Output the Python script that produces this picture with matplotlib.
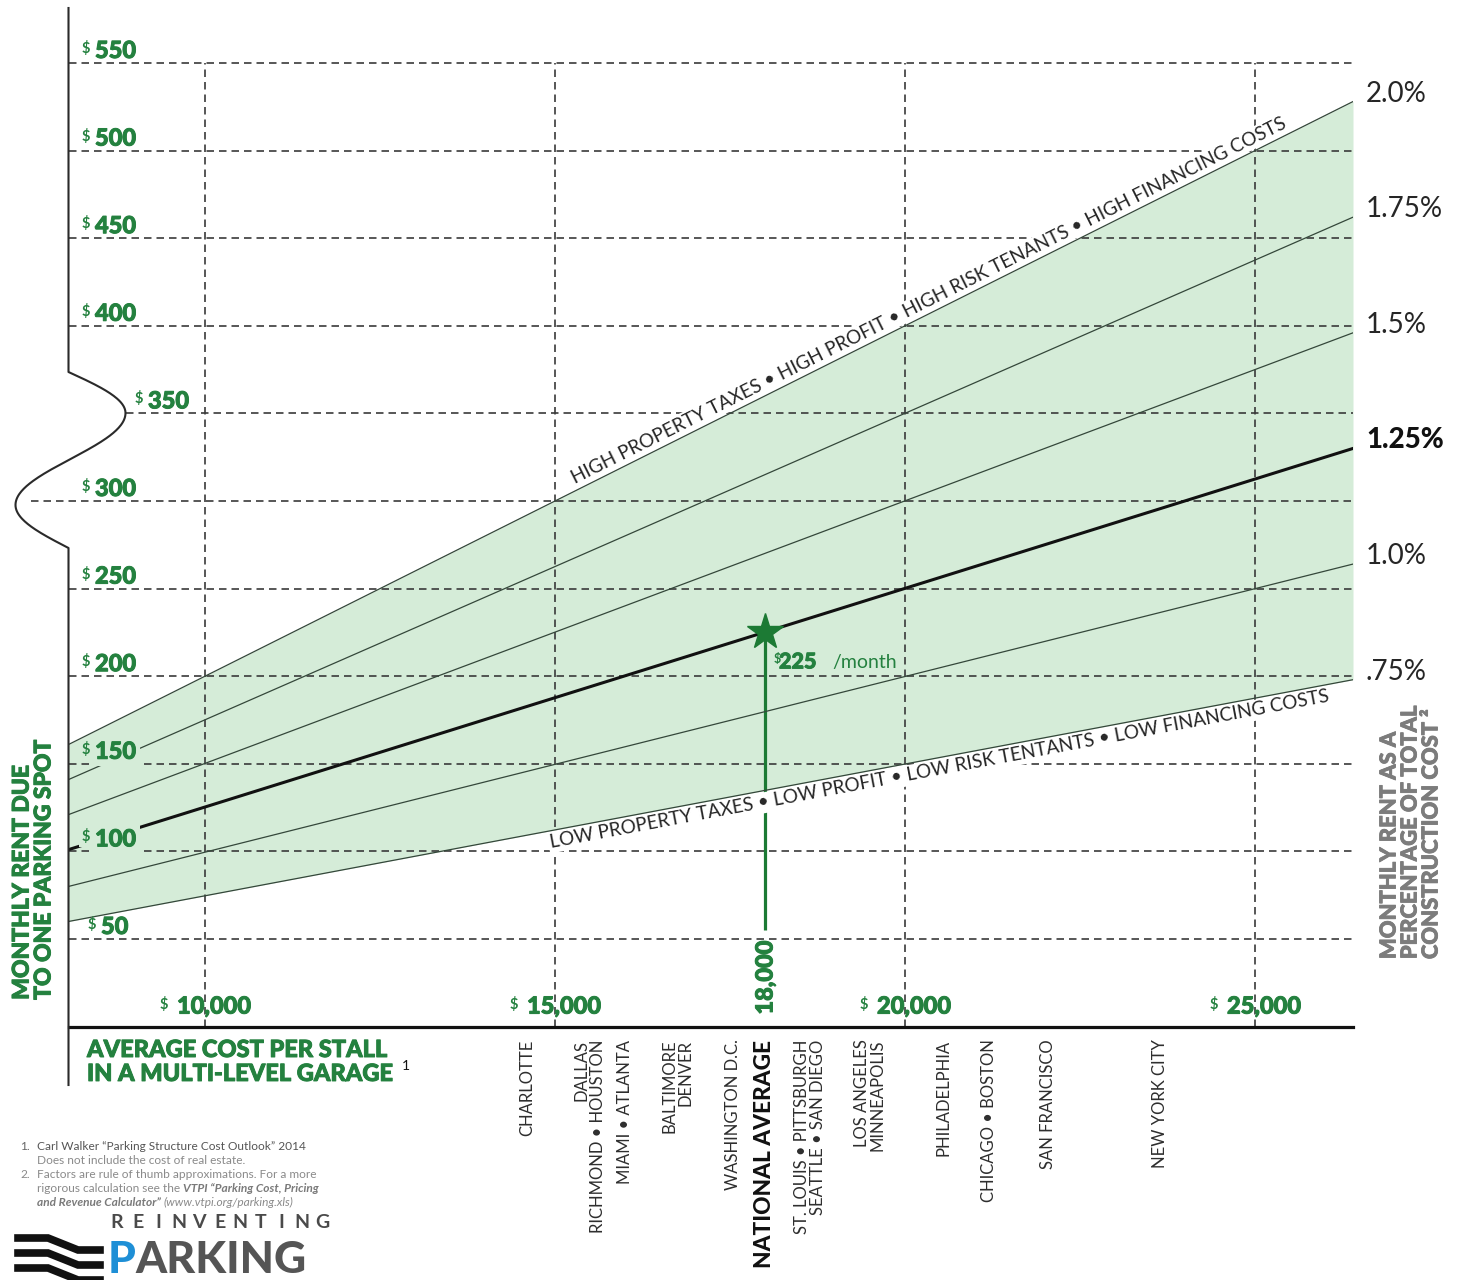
import numpy as np
import matplotlib
matplotlib.use('Agg')
import matplotlib.pyplot as plt
import matplotlib.patheffects as pe
from matplotlib.lines import Line2D

plt.rcParams['font.family'] = ['Lato', 'DejaVu Sans']

# ---- data ----
cost_ends = [8050, 26400]                     # x range of the rate lines
rate_labels = ['2.0%', '1.75%', '1.5%', '1.25%', '1.0%', '.75%']
rent_at_left = [161, 141, 121, 101, 80, 60]   # monthly rent at left edge
rent_at_right = [528, 462, 396, 330, 264, 198]  # monthly rent at right edge

rent_ticks = [50, 100, 150, 200, 250, 300, 350, 400, 450, 500, 550]
cost_ticks = [10000, 15000, 20000, 25000]
cost_tick_labels = ['10,000', '15,000', '20,000', '25,000']

national_cost = 18000
national_rent = 225
drop_line_bottom = 55

city_costs = [14600, 15500, 16000, 16750, 17550, 18000,
              18650, 19500, 20550, 21200, 22050, 23650]
city_labels = ['CHARLOTTE', 'DALLAS\nRICHMOND \u2022 HOUSTON', 'MIAMI \u2022 ATLANTA',
               'BALTIMORE\nDENVER', 'WASHINGTON D.C.', 'NATIONAL AVERAGE',
               'ST. LOUIS \u2022 PITTSBURGH\nSEATTLE \u2022 SAN DIEGO',
               'LOS ANGELES\nMINNEAPOLIS', 'PHILADELPHIA', 'CHICAGO \u2022 BOSTON',
               'SAN FRANCISCO', 'NEW YORK CITY']

high_text = ('HIGH PROPERTY TAXES \u2022 HIGH PROFIT \u2022 HIGH RISK TENANTS '
             '\u2022 HIGH FINANCING COSTS')
low_text = ('LOW PROPERTY TAXES \u2022 LOW PROFIT \u2022 LOW RISK TENTANTS '
            '\u2022 LOW FINANCING COSTS')

green = '#24813f'
dkgreen = '#1c7a34'
fill = '#d5ecd8'
dark = '#262626'

W, H = 1458, 1280
fig = plt.figure(figsize=(W / 100, H / 100), dpi=100)
ax = fig.add_axes([68.5 / W, 1 - 1026.6 / H, 1284.5 / W, 963.6 / H])
ax.set_xlim(cost_ends)
ax.set_ylim(0, 550)
ax.axis('off')

# heavier look for the green bold labels
heavy = [pe.withStroke(linewidth=0.7, foreground=green)]


def fp(x, y):
    # pixel position (top-left origin) -> figure fraction
    return (x / W, 1 - y / H)


# grid
grid_kw = dict(color='#3a3a3a', lw=1.2, ls=(0, (4.5, 3)), zorder=2, clip_on=False)
grid_start = {350: 57 / 1284.5, 300: -38 / 1284.5}
for v in rent_ticks:
    ax.axhline(v, xmin=grid_start.get(v, 0), xmax=1, **grid_kw)
for c in cost_ticks:
    ax.axvline(c, 0, 1, **grid_kw)

# band and rate lines
ax.fill_between(cost_ends, [rent_at_left[-1], rent_at_right[-1]],
                [rent_at_left[0], rent_at_right[0]], color=fill, lw=0, zorder=1)
for lab, r0, r1 in zip(rate_labels, rent_at_left, rent_at_right):
    bold = lab == '1.25%'
    ax.plot(cost_ends, [r0, r1], color='#111111' if bold else '#34473a',
            lw=2.2 if bold else 0.9, zorder=5)
    ax.annotate(lab, xy=(cost_ends[1], r1), xytext=(13, 8), textcoords='offset pixels',
                ha='left', va='center', fontsize=20, color='#111111' if bold else dark,
                weight='black' if bold else 'normal', annotation_clip=False)

# x axis and broken y axis
ax.axhline(0, color='#111111', lw=2.3, zorder=6, clip_on=False)
ys = np.linspace(372, 548, 200)
xo = np.where(ys < 413, 57 * np.sin(np.pi / 2 * (ys - 372) / 41),
              np.where(ys < 505, 2 + 55 * np.cos(np.pi * (ys - 413) / 92),
                       -53 * np.cos(np.pi / 2 * (ys - 505) / 43)))
axis_x = np.concatenate([[68.5, 68.5], 68.5 + xo, [68.5, 68.5]])
axis_y = np.concatenate([[8, 372], ys, [548, 1085]])
fig.add_artist(Line2D(axis_x / W, 1 - axis_y / H, transform=fig.transFigure,
                      color='#2a2a2a', lw=1.5))

# y tick labels
ylab_dx = {350: 53, 50: 6}
masked = {100, 150}
for v in rent_ticks:
    dx = ylab_dx.get(v, 0)
    bb = dict(boxstyle='square,pad=0.15', fc=fill, ec='none') if v in masked else None
    ax.annotate(r'\$', xy=(0, v), xycoords=('axes fraction', 'data'),
                xytext=(13 + dx, 22), textcoords='offset pixels', ha='left', va='top',
                fontsize=10.5, weight='bold', color=green, zorder=6, bbox=bb,
                annotation_clip=False)
    ax.annotate(str(v), xy=(0, v), xycoords=('axes fraction', 'data'),
                xytext=(26.5 + dx, 5), textcoords='offset pixels', ha='left',
                va='baseline', fontsize=17, weight='black', color=green, zorder=6,
                bbox=bb, annotation_clip=False, path_effects=heavy)

# x tick labels
for c, lab in zip(cost_ticks, cost_tick_labels):
    ax.annotate(lab, xy=(c, 0), xytext=(-28, 13), textcoords='offset pixels',
                ha='left', va='baseline', fontsize=17, weight='black', color=green,
                path_effects=heavy)
    ax.annotate(r'\$', xy=(c, 0), xytext=(-45, 30), textcoords='offset pixels',
                ha='left', va='top', fontsize=10.5, weight='bold', color=green)

# national average marker
ax.plot([national_cost, national_cost], [national_rent, drop_line_bottom],
        color=dkgreen, lw=2.3, zorder=3.5, solid_capstyle='butt')
ax.plot(national_cost, national_rent, marker='*', ms=27, color=dkgreen, zorder=7)
ax.annotate('18,000', xy=(national_cost, 0), xytext=(0, 12), textcoords='offset pixels',
            rotation=90, ha='center', va='bottom', fontsize=17, weight='black',
            color=green, path_effects=heavy)
ax.annotate(r'\$', xy=(national_cost, national_rent), xytext=(9, -21),
            textcoords='offset pixels', ha='left', va='top', fontsize=9,
            weight='bold', color=green, zorder=7)
ax.annotate(str(national_rent), xy=(national_cost, national_rent), xytext=(14, -36),
            textcoords='offset pixels', ha='left', va='baseline', fontsize=15.5,
            weight='black', color=green, zorder=7, path_effects=heavy)
ax.annotate('/month', xy=(national_cost, national_rent), xytext=(67, -36),
            textcoords='offset pixels', ha='left', va='baseline', fontsize=14,
            color=green, zorder=7)


# band edge labels along the lines
def edge_angle(r0, r1):
    p0 = ax.transData.transform((cost_ends[0], r0))
    p1 = ax.transData.transform((cost_ends[1], r1))
    return np.degrees(np.arctan2(p1[1] - p0[1], p1[0] - p0[0]))


for txt, start, r0, r1, side in [(high_text, 15330, rent_at_left[0], rent_at_right[0], 1),
                                 (low_text, 14900, rent_at_left[-1], rent_at_right[-1], -1)]:
    ang = edge_angle(r0, r1)
    y0 = np.interp(start, cost_ends, [r0, r1])
    d = 3.5 * side
    ox, oy = -np.sin(np.radians(ang)) * d, np.cos(np.radians(ang)) * d
    ax.annotate(txt, xy=(start, y0), xytext=(ox, oy), textcoords='offset pixels',
                rotation=ang, rotation_mode='anchor', ha='left',
                va='bottom' if side > 0 else 'top', fontsize=13.6, color=dark,
                bbox=dict(boxstyle='square,pad=0.1', fc='white', ec='none'), zorder=4)

# city labels under the axis
for c, lab in zip(city_costs, city_labels):
    nat = lab == 'NATIONAL AVERAGE'
    ax.annotate(lab, xy=(c, 0), xytext=(0, -13), textcoords='offset pixels',
                rotation=90, ha='center', va='top', multialignment='right',
                fontsize=16.3 if nat else 12, weight='black' if nat else 'normal',
                color='#111111' if nat else '#2e2e2e', linespacing=1.0,
                annotation_clip=False)

# axis titles
fig.text(*fp(33, 870), 'MONTHLY RENT DUE\nTO ONE PARKING SPOT', rotation=90,
         ha='center', va='center', multialignment='left', fontsize=16.5,
         weight='black', color=green, linespacing=1.05, path_effects=heavy)
fig.text(*fp(1410, 832), 'MONTHLY RENT AS A\nPERCENTAGE OF TOTAL\nCONSTRUCTION COST \u00b2',
         rotation=90, ha='center', va='center', multialignment='left', fontsize=15.8,
         weight='black', color='#7c7c7c', linespacing=1.0,
         path_effects=[pe.withStroke(linewidth=0.6, foreground='#7c7c7c')])
fig.text(*fp(87, 1038), 'AVERAGE COST PER STALL\nIN A MULTI-LEVEL GARAGE', ha='left',
         va='top', fontsize=17, weight='black', color=green, linespacing=1.05,
         path_effects=heavy)
fig.text(*fp(402, 1066), '1', ha='left', va='center', fontsize=10, color='#111111')

# footnotes
fs = 8.6
fn_kw = dict(fontsize=fs, va='center', ha='left')
fig.text(*fp(20, 1146), '1.', color='#666666', **fn_kw)
fig.text(*fp(37, 1146), 'Carl Walker \u201cParking Structure Cost Outlook\u201d 2014',
         color='#555555', **fn_kw)
fig.text(*fp(37, 1160), 'Does not include the cost of real estate.', color='#8a8a8a', **fn_kw)
fig.text(*fp(20, 1175), '2.', color='#8a8a8a', **fn_kw)
fig.text(*fp(37, 1175), 'Factors are rule of thumb approximations. For a more',
         color='#8a8a8a', **fn_kw)
t1 = fig.text(*fp(37, 1189), 'rigorous calculation see the ', color='#8a8a8a', **fn_kw)
ax.annotate('VTPI \u201cParking Cost, Pricing', xy=(1, 0), xycoords=t1, ha='left',
            va='bottom', fontsize=fs, style='italic', weight='bold', color='#7a7a7a',
            annotation_clip=False)
t2 = fig.text(*fp(37, 1203), 'and Revenue Calculator\u201d ', color='#7a7a7a',
              style='italic', weight='bold', **fn_kw)
ax.annotate('(www.vtpi.org/parking.xls)', xy=(1, 0), xycoords=t2, ha='left',
            va='bottom', fontsize=fs, style='italic', color='#8a8a8a',
            annotation_clip=False)

# logo
for y0 in [1238, 1253, 1268]:
    fig.add_artist(Line2D(np.array([18, 48, 78, 100]) / W,
                          1 - np.array([y0, y0, y0 + 12, y0 + 12]) / H,
                          transform=fig.transFigure, color='#111111', lw=5.5,
                          solid_joinstyle='miter'))
for i, ch in enumerate('REINVENTING'):
    fig.text(*fp(117 + i * 20.5, 1223), ch, ha='center', va='center', fontsize=14,
             weight='bold', color='#4a4a4a')
tp = fig.text(*fp(108, 1240), 'P', ha='left', va='top', fontsize=32,
              weight='black', color='#1e8fd6')
ax.annotate('ARKING', xy=(1, 1), xycoords=tp, ha='left', va='top', fontsize=32,
            weight='black', color='#555555', annotation_clip=False)

fig.savefig('out.png', dpi=100, facecolor='white')
